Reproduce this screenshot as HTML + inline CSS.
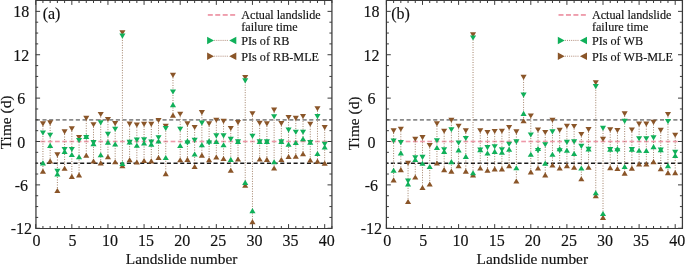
<!DOCTYPE html>
<html><head><meta charset="utf-8"><style>
html,body{margin:0;padding:0;background:#fff;overflow:hidden;width:685px;height:265px;}
svg{display:block;will-change:transform;}
text{font-family:"Liberation Serif",serif;fill:#111;stroke:#111;stroke-width:0.15px;}
</style></head><body>
<svg width="685" height="265" viewBox="0 0 685 265">
<rect width="685" height="265" fill="#fff"/>
<line x1="35.70" y1="119.81" x2="331.92" y2="119.81" stroke="#8a8a8a" stroke-width="1.7" stroke-dasharray="4.1 2.57" stroke-dashoffset="-0.1"/>
<line x1="35.70" y1="163.19" x2="331.92" y2="163.19" stroke="#1a1a1a" stroke-width="1.4" stroke-dasharray="4.1 2.57" stroke-dashoffset="2.25"/>
<line x1="40.58" y1="141.50" x2="45.28" y2="141.50" stroke="#ee98a8" stroke-width="1.6"/>
<line x1="47.80" y1="141.50" x2="52.50" y2="141.50" stroke="#ee98a8" stroke-width="1.6"/>
<line x1="55.02" y1="141.50" x2="59.73" y2="141.50" stroke="#ee98a8" stroke-width="1.6"/>
<line x1="62.25" y1="141.50" x2="66.95" y2="141.50" stroke="#ee98a8" stroke-width="1.6"/>
<line x1="69.48" y1="141.50" x2="74.17" y2="141.50" stroke="#ee98a8" stroke-width="1.6"/>
<line x1="76.70" y1="141.50" x2="81.40" y2="141.50" stroke="#ee98a8" stroke-width="1.6"/>
<line x1="83.93" y1="141.50" x2="88.62" y2="141.50" stroke="#ee98a8" stroke-width="1.6"/>
<line x1="91.15" y1="141.50" x2="95.85" y2="141.50" stroke="#ee98a8" stroke-width="1.6"/>
<line x1="98.38" y1="141.50" x2="103.07" y2="141.50" stroke="#ee98a8" stroke-width="1.6"/>
<line x1="105.60" y1="141.50" x2="110.30" y2="141.50" stroke="#ee98a8" stroke-width="1.6"/>
<line x1="112.83" y1="141.50" x2="117.52" y2="141.50" stroke="#ee98a8" stroke-width="1.6"/>
<line x1="120.05" y1="141.50" x2="124.75" y2="141.50" stroke="#ee98a8" stroke-width="1.6"/>
<line x1="127.28" y1="141.50" x2="131.97" y2="141.50" stroke="#ee98a8" stroke-width="1.6"/>
<line x1="134.50" y1="141.50" x2="139.20" y2="141.50" stroke="#ee98a8" stroke-width="1.6"/>
<line x1="141.72" y1="141.50" x2="146.42" y2="141.50" stroke="#ee98a8" stroke-width="1.6"/>
<line x1="148.95" y1="141.50" x2="153.65" y2="141.50" stroke="#ee98a8" stroke-width="1.6"/>
<line x1="156.17" y1="141.50" x2="160.87" y2="141.50" stroke="#ee98a8" stroke-width="1.6"/>
<line x1="163.40" y1="141.50" x2="168.10" y2="141.50" stroke="#ee98a8" stroke-width="1.6"/>
<line x1="170.63" y1="141.50" x2="175.33" y2="141.50" stroke="#ee98a8" stroke-width="1.6"/>
<line x1="177.85" y1="141.50" x2="182.55" y2="141.50" stroke="#ee98a8" stroke-width="1.6"/>
<line x1="185.08" y1="141.50" x2="189.78" y2="141.50" stroke="#ee98a8" stroke-width="1.6"/>
<line x1="192.30" y1="141.50" x2="197.00" y2="141.50" stroke="#ee98a8" stroke-width="1.6"/>
<line x1="199.53" y1="141.50" x2="204.22" y2="141.50" stroke="#ee98a8" stroke-width="1.6"/>
<line x1="206.75" y1="141.50" x2="211.45" y2="141.50" stroke="#ee98a8" stroke-width="1.6"/>
<line x1="213.97" y1="141.50" x2="218.67" y2="141.50" stroke="#ee98a8" stroke-width="1.6"/>
<line x1="221.20" y1="141.50" x2="225.90" y2="141.50" stroke="#ee98a8" stroke-width="1.6"/>
<line x1="228.42" y1="141.50" x2="233.12" y2="141.50" stroke="#ee98a8" stroke-width="1.6"/>
<line x1="235.65" y1="141.50" x2="240.35" y2="141.50" stroke="#ee98a8" stroke-width="1.6"/>
<line x1="242.87" y1="141.50" x2="247.57" y2="141.50" stroke="#ee98a8" stroke-width="1.6"/>
<line x1="250.10" y1="141.50" x2="254.80" y2="141.50" stroke="#ee98a8" stroke-width="1.6"/>
<line x1="257.32" y1="141.50" x2="262.03" y2="141.50" stroke="#ee98a8" stroke-width="1.6"/>
<line x1="264.55" y1="141.50" x2="269.25" y2="141.50" stroke="#ee98a8" stroke-width="1.6"/>
<line x1="271.77" y1="141.50" x2="276.48" y2="141.50" stroke="#ee98a8" stroke-width="1.6"/>
<line x1="279.00" y1="141.50" x2="283.70" y2="141.50" stroke="#ee98a8" stroke-width="1.6"/>
<line x1="286.22" y1="141.50" x2="290.93" y2="141.50" stroke="#ee98a8" stroke-width="1.6"/>
<line x1="293.45" y1="141.50" x2="298.15" y2="141.50" stroke="#ee98a8" stroke-width="1.6"/>
<line x1="300.67" y1="141.50" x2="305.38" y2="141.50" stroke="#ee98a8" stroke-width="1.6"/>
<line x1="307.90" y1="141.50" x2="312.60" y2="141.50" stroke="#ee98a8" stroke-width="1.6"/>
<line x1="315.12" y1="141.50" x2="319.82" y2="141.50" stroke="#ee98a8" stroke-width="1.6"/>
<line x1="322.35" y1="141.50" x2="327.05" y2="141.50" stroke="#ee98a8" stroke-width="1.6"/>
<line x1="42.93" y1="123.50" x2="42.93" y2="171.14" stroke="#a08068" stroke-width="1" stroke-dasharray="1 1.5"/>
<line x1="50.15" y1="122.49" x2="50.15" y2="160.88" stroke="#a08068" stroke-width="1" stroke-dasharray="1 1.5"/>
<line x1="57.38" y1="154.51" x2="57.38" y2="190.52" stroke="#a08068" stroke-width="1" stroke-dasharray="1 1.5"/>
<line x1="64.60" y1="131.52" x2="64.60" y2="168.25" stroke="#a08068" stroke-width="1" stroke-dasharray="1 1.5"/>
<line x1="71.83" y1="128.49" x2="71.83" y2="176.42" stroke="#a08068" stroke-width="1" stroke-dasharray="1 1.5"/>
<line x1="79.05" y1="137.09" x2="79.05" y2="174.90" stroke="#a08068" stroke-width="1" stroke-dasharray="1 1.5"/>
<line x1="86.28" y1="117.93" x2="86.28" y2="155.24" stroke="#a08068" stroke-width="1" stroke-dasharray="1 1.5"/>
<line x1="93.50" y1="124.29" x2="93.50" y2="161.02" stroke="#a08068" stroke-width="1" stroke-dasharray="1 1.5"/>
<line x1="100.72" y1="114.17" x2="100.72" y2="162.83" stroke="#a08068" stroke-width="1" stroke-dasharray="1 1.5"/>
<line x1="107.95" y1="119.16" x2="107.95" y2="156.68" stroke="#a08068" stroke-width="1" stroke-dasharray="1 1.5"/>
<line x1="115.17" y1="123.21" x2="115.17" y2="161.74" stroke="#a08068" stroke-width="1" stroke-dasharray="1 1.5"/>
<line x1="122.40" y1="32.40" x2="122.40" y2="165.79" stroke="#a08068" stroke-width="1" stroke-dasharray="1 1.5"/>
<line x1="129.62" y1="123.71" x2="129.62" y2="159.72" stroke="#a08068" stroke-width="1" stroke-dasharray="1 1.5"/>
<line x1="136.85" y1="124.73" x2="136.85" y2="162.03" stroke="#a08068" stroke-width="1" stroke-dasharray="1 1.5"/>
<line x1="144.07" y1="124.00" x2="144.07" y2="160.44" stroke="#a08068" stroke-width="1" stroke-dasharray="1 1.5"/>
<line x1="151.30" y1="124.00" x2="151.30" y2="160.88" stroke="#a08068" stroke-width="1" stroke-dasharray="1 1.5"/>
<line x1="158.52" y1="120.17" x2="158.52" y2="157.48" stroke="#a08068" stroke-width="1" stroke-dasharray="1 1.5"/>
<line x1="165.75" y1="125.81" x2="165.75" y2="173.60" stroke="#a08068" stroke-width="1" stroke-dasharray="1 1.5"/>
<line x1="172.98" y1="74.98" x2="172.98" y2="115.11" stroke="#a08068" stroke-width="1" stroke-dasharray="1 1.5"/>
<line x1="180.20" y1="113.88" x2="180.20" y2="159.72" stroke="#a08068" stroke-width="1" stroke-dasharray="1 1.5"/>
<line x1="187.43" y1="123.50" x2="187.43" y2="159.36" stroke="#a08068" stroke-width="1" stroke-dasharray="1 1.5"/>
<line x1="194.65" y1="127.04" x2="194.65" y2="166.52" stroke="#a08068" stroke-width="1" stroke-dasharray="1 1.5"/>
<line x1="201.88" y1="112.22" x2="201.88" y2="155.16" stroke="#a08068" stroke-width="1" stroke-dasharray="1 1.5"/>
<line x1="209.10" y1="123.50" x2="209.10" y2="159.72" stroke="#a08068" stroke-width="1" stroke-dasharray="1 1.5"/>
<line x1="216.32" y1="119.81" x2="216.32" y2="156.97" stroke="#a08068" stroke-width="1" stroke-dasharray="1 1.5"/>
<line x1="223.55" y1="120.97" x2="223.55" y2="158.49" stroke="#a08068" stroke-width="1" stroke-dasharray="1 1.5"/>
<line x1="230.77" y1="128.12" x2="230.77" y2="170.28" stroke="#a08068" stroke-width="1" stroke-dasharray="1 1.5"/>
<line x1="238.00" y1="122.20" x2="238.00" y2="159.00" stroke="#a08068" stroke-width="1" stroke-dasharray="1 1.5"/>
<line x1="245.22" y1="77.15" x2="245.22" y2="185.24" stroke="#a08068" stroke-width="1" stroke-dasharray="1 1.5"/>
<line x1="252.45" y1="113.38" x2="252.45" y2="221.61" stroke="#a08068" stroke-width="1" stroke-dasharray="1 1.5"/>
<line x1="259.68" y1="122.92" x2="259.68" y2="159.00" stroke="#a08068" stroke-width="1" stroke-dasharray="1 1.5"/>
<line x1="266.90" y1="123.50" x2="266.90" y2="159.36" stroke="#a08068" stroke-width="1" stroke-dasharray="1 1.5"/>
<line x1="274.12" y1="109.69" x2="274.12" y2="168.03" stroke="#a08068" stroke-width="1" stroke-dasharray="1 1.5"/>
<line x1="281.35" y1="123.21" x2="281.35" y2="159.57" stroke="#a08068" stroke-width="1" stroke-dasharray="1 1.5"/>
<line x1="288.57" y1="117.06" x2="288.57" y2="156.47" stroke="#a08068" stroke-width="1" stroke-dasharray="1 1.5"/>
<line x1="295.80" y1="117.93" x2="295.80" y2="156.18" stroke="#a08068" stroke-width="1" stroke-dasharray="1 1.5"/>
<line x1="303.02" y1="116.05" x2="303.02" y2="153.79" stroke="#a08068" stroke-width="1" stroke-dasharray="1 1.5"/>
<line x1="310.25" y1="123.79" x2="310.25" y2="159.94" stroke="#a08068" stroke-width="1" stroke-dasharray="1 1.5"/>
<line x1="317.47" y1="108.31" x2="317.47" y2="161.09" stroke="#a08068" stroke-width="1" stroke-dasharray="1 1.5"/>
<line x1="324.70" y1="127.18" x2="324.70" y2="163.12" stroke="#a08068" stroke-width="1" stroke-dasharray="1 1.5"/>
<path d="M39.88 121.35H45.98L42.93 126.45Z" fill="#8a5528"/>
<path d="M39.88 173.69H45.98L42.93 168.59Z" fill="#8a5528"/>
<path d="M47.10 120.34H53.20L50.15 125.44Z" fill="#8a5528"/>
<path d="M47.10 163.43H53.20L50.15 158.33Z" fill="#8a5528"/>
<path d="M54.33 152.36H60.42L57.38 157.46Z" fill="#8a5528"/>
<path d="M54.33 193.07H60.42L57.38 187.97Z" fill="#8a5528"/>
<path d="M61.55 129.37H67.65L64.60 134.47Z" fill="#8a5528"/>
<path d="M61.55 170.80H67.65L64.60 165.70Z" fill="#8a5528"/>
<path d="M68.78 126.34H74.88L71.83 131.44Z" fill="#8a5528"/>
<path d="M68.78 178.97H74.88L71.83 173.87Z" fill="#8a5528"/>
<path d="M76.00 134.94H82.10L79.05 140.04Z" fill="#8a5528"/>
<path d="M76.00 177.45H82.10L79.05 172.35Z" fill="#8a5528"/>
<path d="M83.23 115.78H89.33L86.28 120.88Z" fill="#8a5528"/>
<path d="M83.23 157.79H89.33L86.28 152.69Z" fill="#8a5528"/>
<path d="M90.45 122.14H96.55L93.50 127.24Z" fill="#8a5528"/>
<path d="M90.45 163.57H96.55L93.50 158.47Z" fill="#8a5528"/>
<path d="M97.67 112.02H103.77L100.72 117.12Z" fill="#8a5528"/>
<path d="M97.67 165.38H103.77L100.72 160.28Z" fill="#8a5528"/>
<path d="M104.90 117.01H111.00L107.95 122.11Z" fill="#8a5528"/>
<path d="M104.90 159.23H111.00L107.95 154.13Z" fill="#8a5528"/>
<path d="M112.12 121.06H118.22L115.17 126.16Z" fill="#8a5528"/>
<path d="M112.12 164.29H118.22L115.17 159.19Z" fill="#8a5528"/>
<path d="M119.35 30.25H125.45L122.40 35.35Z" fill="#8a5528"/>
<path d="M119.35 168.34H125.45L122.40 163.24Z" fill="#8a5528"/>
<path d="M126.58 121.56H132.68L129.62 126.66Z" fill="#8a5528"/>
<path d="M126.58 162.27H132.68L129.62 157.17Z" fill="#8a5528"/>
<path d="M133.80 122.58H139.90L136.85 127.68Z" fill="#8a5528"/>
<path d="M133.80 164.58H139.90L136.85 159.48Z" fill="#8a5528"/>
<path d="M141.02 121.85H147.12L144.07 126.95Z" fill="#8a5528"/>
<path d="M141.02 162.99H147.12L144.07 157.89Z" fill="#8a5528"/>
<path d="M148.25 121.85H154.35L151.30 126.95Z" fill="#8a5528"/>
<path d="M148.25 163.43H154.35L151.30 158.33Z" fill="#8a5528"/>
<path d="M155.47 118.02H161.57L158.52 123.12Z" fill="#8a5528"/>
<path d="M155.47 160.03H161.57L158.52 154.93Z" fill="#8a5528"/>
<path d="M162.70 123.66H168.80L165.75 128.76Z" fill="#8a5528"/>
<path d="M162.70 176.15H168.80L165.75 171.05Z" fill="#8a5528"/>
<path d="M169.93 72.83H176.03L172.98 77.93Z" fill="#8a5528"/>
<path d="M169.93 117.66H176.03L172.98 112.56Z" fill="#8a5528"/>
<path d="M177.15 111.73H183.25L180.20 116.83Z" fill="#8a5528"/>
<path d="M177.15 162.27H183.25L180.20 157.17Z" fill="#8a5528"/>
<path d="M184.38 121.35H190.48L187.43 126.45Z" fill="#8a5528"/>
<path d="M184.38 161.91H190.48L187.43 156.81Z" fill="#8a5528"/>
<path d="M191.60 124.89H197.70L194.65 129.99Z" fill="#8a5528"/>
<path d="M191.60 169.07H197.70L194.65 163.97Z" fill="#8a5528"/>
<path d="M198.82 110.07H204.93L201.88 115.17Z" fill="#8a5528"/>
<path d="M198.82 157.71H204.93L201.88 152.61Z" fill="#8a5528"/>
<path d="M206.05 121.35H212.15L209.10 126.45Z" fill="#8a5528"/>
<path d="M206.05 162.27H212.15L209.10 157.17Z" fill="#8a5528"/>
<path d="M213.27 117.66H219.38L216.32 122.76Z" fill="#8a5528"/>
<path d="M213.27 159.52H219.38L216.32 154.42Z" fill="#8a5528"/>
<path d="M220.50 118.82H226.60L223.55 123.92Z" fill="#8a5528"/>
<path d="M220.50 161.04H226.60L223.55 155.94Z" fill="#8a5528"/>
<path d="M227.72 125.97H233.82L230.77 131.07Z" fill="#8a5528"/>
<path d="M227.72 172.83H233.82L230.77 167.73Z" fill="#8a5528"/>
<path d="M234.95 120.05H241.05L238.00 125.15Z" fill="#8a5528"/>
<path d="M234.95 161.55H241.05L238.00 156.45Z" fill="#8a5528"/>
<path d="M242.17 75.00H248.27L245.22 80.10Z" fill="#8a5528"/>
<path d="M242.17 187.79H248.27L245.22 182.69Z" fill="#8a5528"/>
<path d="M249.40 111.23H255.50L252.45 116.33Z" fill="#8a5528"/>
<path d="M249.40 224.16H255.50L252.45 219.06Z" fill="#8a5528"/>
<path d="M256.62 120.77H262.73L259.68 125.87Z" fill="#8a5528"/>
<path d="M256.62 161.55H262.73L259.68 156.45Z" fill="#8a5528"/>
<path d="M263.85 121.35H269.95L266.90 126.45Z" fill="#8a5528"/>
<path d="M263.85 161.91H269.95L266.90 156.81Z" fill="#8a5528"/>
<path d="M271.07 107.54H277.18L274.12 112.64Z" fill="#8a5528"/>
<path d="M271.07 170.58H277.18L274.12 165.48Z" fill="#8a5528"/>
<path d="M278.30 121.06H284.40L281.35 126.16Z" fill="#8a5528"/>
<path d="M278.30 162.12H284.40L281.35 157.02Z" fill="#8a5528"/>
<path d="M285.52 114.91H291.62L288.57 120.01Z" fill="#8a5528"/>
<path d="M285.52 159.02H291.62L288.57 153.92Z" fill="#8a5528"/>
<path d="M292.75 115.78H298.85L295.80 120.88Z" fill="#8a5528"/>
<path d="M292.75 158.73H298.85L295.80 153.63Z" fill="#8a5528"/>
<path d="M299.97 113.90H306.07L303.02 119.00Z" fill="#8a5528"/>
<path d="M299.97 156.34H306.07L303.02 151.24Z" fill="#8a5528"/>
<path d="M307.20 121.64H313.30L310.25 126.74Z" fill="#8a5528"/>
<path d="M307.20 162.49H313.30L310.25 157.39Z" fill="#8a5528"/>
<path d="M314.42 106.16H320.52L317.47 111.26Z" fill="#8a5528"/>
<path d="M314.42 163.64H320.52L317.47 158.54Z" fill="#8a5528"/>
<path d="M321.65 125.03H327.75L324.70 130.13Z" fill="#8a5528"/>
<path d="M321.65 165.67H327.75L324.70 160.57Z" fill="#8a5528"/>
<path d="M39.88 130.46H45.98L42.93 135.56Z" fill="#10b05a"/>
<path d="M39.88 165.38H45.98L42.93 160.28Z" fill="#10b05a"/>
<path d="M47.10 132.63H53.20L50.15 137.73Z" fill="#10b05a"/>
<path d="M47.10 147.95H53.20L50.15 142.85Z" fill="#10b05a"/>
<path d="M54.33 168.85H60.42L57.38 173.95Z" fill="#10b05a"/>
<path d="M54.33 176.59H60.42L57.38 171.48Z" fill="#10b05a"/>
<path d="M61.55 146.94H67.65L64.60 152.04Z" fill="#10b05a"/>
<path d="M61.55 153.96H67.65L64.60 148.86Z" fill="#10b05a"/>
<path d="M68.78 146.94H74.88L71.83 152.04Z" fill="#10b05a"/>
<path d="M68.78 157.06H74.88L71.83 151.96Z" fill="#10b05a"/>
<path d="M76.00 137.90H82.10L79.05 143.00Z" fill="#10b05a"/>
<path d="M76.00 159.23H82.10L79.05 154.13Z" fill="#10b05a"/>
<path d="M83.23 135.01H89.33L86.28 140.11Z" fill="#10b05a"/>
<path d="M83.23 138.99H89.33L86.28 133.89Z" fill="#10b05a"/>
<path d="M90.45 140.07H96.55L93.50 145.17Z" fill="#10b05a"/>
<path d="M90.45 146.15H96.55L93.50 141.05Z" fill="#10b05a"/>
<path d="M97.67 120.34H103.77L100.72 125.44Z" fill="#10b05a"/>
<path d="M97.67 157.35H103.77L100.72 152.25Z" fill="#10b05a"/>
<path d="M104.90 131.83H111.00L107.95 136.93Z" fill="#10b05a"/>
<path d="M104.90 144.70H111.00L107.95 139.60Z" fill="#10b05a"/>
<path d="M112.12 126.63H118.22L115.17 131.73Z" fill="#10b05a"/>
<path d="M112.12 146.58H118.22L115.17 141.48Z" fill="#10b05a"/>
<path d="M119.35 33.58H125.45L122.40 38.68Z" fill="#10b05a"/>
<path d="M119.35 166.03H125.45L122.40 160.93Z" fill="#10b05a"/>
<path d="M126.58 139.86H132.68L129.62 144.96Z" fill="#10b05a"/>
<path d="M126.58 144.56H132.68L129.62 139.46Z" fill="#10b05a"/>
<path d="M133.80 137.54H139.90L136.85 142.64Z" fill="#10b05a"/>
<path d="M133.80 147.74H139.90L136.85 142.64Z" fill="#10b05a"/>
<path d="M141.02 137.25H147.12L144.07 142.35Z" fill="#10b05a"/>
<path d="M141.02 145.57H147.12L144.07 140.47Z" fill="#10b05a"/>
<path d="M148.25 139.42H154.35L151.30 144.52Z" fill="#10b05a"/>
<path d="M148.25 146.65H154.35L151.30 141.55Z" fill="#10b05a"/>
<path d="M155.47 135.23H161.57L158.52 140.33Z" fill="#10b05a"/>
<path d="M155.47 143.62H161.57L158.52 138.52Z" fill="#10b05a"/>
<path d="M162.70 125.97H168.80L165.75 131.07Z" fill="#10b05a"/>
<path d="M162.70 160.03H168.80L165.75 154.93Z" fill="#10b05a"/>
<path d="M169.93 89.46H176.03L172.98 94.56Z" fill="#10b05a"/>
<path d="M169.93 107.18H176.03L172.98 102.08Z" fill="#10b05a"/>
<path d="M177.15 126.63H183.25L180.20 131.73Z" fill="#10b05a"/>
<path d="M177.15 148.03H183.25L180.20 142.93Z" fill="#10b05a"/>
<path d="M184.38 140.43H190.48L187.43 145.53Z" fill="#10b05a"/>
<path d="M184.38 143.40H190.48L187.43 138.30Z" fill="#10b05a"/>
<path d="M191.60 137.83H197.70L194.65 142.93Z" fill="#10b05a"/>
<path d="M191.60 156.56H197.70L194.65 151.46Z" fill="#10b05a"/>
<path d="M198.82 120.62H204.93L201.88 125.72Z" fill="#10b05a"/>
<path d="M198.82 147.30H204.93L201.88 142.20Z" fill="#10b05a"/>
<path d="M206.05 140.43H212.15L209.10 145.53Z" fill="#10b05a"/>
<path d="M206.05 143.40H212.15L209.10 138.30Z" fill="#10b05a"/>
<path d="M213.27 133.35H219.38L216.32 138.45Z" fill="#10b05a"/>
<path d="M213.27 144.05H219.38L216.32 138.95Z" fill="#10b05a"/>
<path d="M220.50 133.35H226.60L223.55 138.45Z" fill="#10b05a"/>
<path d="M220.50 147.30H226.60L223.55 142.20Z" fill="#10b05a"/>
<path d="M227.72 136.82H233.82L230.77 141.92Z" fill="#10b05a"/>
<path d="M227.72 161.91H233.82L230.77 156.81Z" fill="#10b05a"/>
<path d="M234.95 139.35H241.05L238.00 144.45Z" fill="#10b05a"/>
<path d="M234.95 144.05H241.05L238.00 138.95Z" fill="#10b05a"/>
<path d="M242.17 78.33H248.27L245.22 83.43Z" fill="#10b05a"/>
<path d="M242.17 184.90H248.27L245.22 179.80Z" fill="#10b05a"/>
<path d="M249.40 133.64H255.50L252.45 138.74Z" fill="#10b05a"/>
<path d="M249.40 213.17H255.50L252.45 208.07Z" fill="#10b05a"/>
<path d="M256.62 139.35H262.73L259.68 144.45Z" fill="#10b05a"/>
<path d="M256.62 144.05H262.73L259.68 138.95Z" fill="#10b05a"/>
<path d="M263.85 139.35H269.95L266.90 144.45Z" fill="#10b05a"/>
<path d="M263.85 144.05H269.95L266.90 138.95Z" fill="#10b05a"/>
<path d="M271.07 114.19H277.18L274.12 119.29Z" fill="#10b05a"/>
<path d="M271.07 164.29H277.18L274.12 159.19Z" fill="#10b05a"/>
<path d="M278.30 139.35H284.40L281.35 144.45Z" fill="#10b05a"/>
<path d="M278.30 144.05H284.40L281.35 138.95Z" fill="#10b05a"/>
<path d="M285.52 127.57H291.62L288.57 132.67Z" fill="#10b05a"/>
<path d="M285.52 146.73H291.62L288.57 141.63Z" fill="#10b05a"/>
<path d="M292.75 129.73H298.85L295.80 134.83Z" fill="#10b05a"/>
<path d="M292.75 145.06H298.85L295.80 139.96Z" fill="#10b05a"/>
<path d="M299.97 129.73H306.07L303.02 134.83Z" fill="#10b05a"/>
<path d="M299.97 141.37H306.07L303.02 136.27Z" fill="#10b05a"/>
<path d="M307.20 139.93H313.30L310.25 145.03Z" fill="#10b05a"/>
<path d="M307.20 144.63H313.30L310.25 139.53Z" fill="#10b05a"/>
<path d="M314.42 114.05H320.52L317.47 119.14Z" fill="#10b05a"/>
<path d="M314.42 156.12H320.52L317.47 151.02Z" fill="#10b05a"/>
<path d="M321.65 141.66H327.75L324.70 146.76Z" fill="#10b05a"/>
<path d="M321.65 149.62H327.75L324.70 144.52Z" fill="#10b05a"/>
<path d="M35.95 0.5H331.92M35.95 228.5H331.92" stroke="#3a3a3a" stroke-width="1.05" fill="none"/>
<path d="M35.95 0V229M331.92 0V229" stroke="#3a3a3a" stroke-width="1.25" fill="none"/>
<line x1="35.70" y1="228.50" x2="35.70" y2="224.10" stroke="#3a3a3a" stroke-width="1"/>
<line x1="35.70" y1="0.50" x2="35.70" y2="4.90" stroke="#3a3a3a" stroke-width="1"/>
<line x1="42.93" y1="228.50" x2="42.93" y2="226.00" stroke="#3a3a3a" stroke-width="1"/>
<line x1="42.93" y1="0.50" x2="42.93" y2="3.00" stroke="#3a3a3a" stroke-width="1"/>
<line x1="50.15" y1="228.50" x2="50.15" y2="226.00" stroke="#3a3a3a" stroke-width="1"/>
<line x1="50.15" y1="0.50" x2="50.15" y2="3.00" stroke="#3a3a3a" stroke-width="1"/>
<line x1="57.38" y1="228.50" x2="57.38" y2="226.00" stroke="#3a3a3a" stroke-width="1"/>
<line x1="57.38" y1="0.50" x2="57.38" y2="3.00" stroke="#3a3a3a" stroke-width="1"/>
<line x1="64.60" y1="228.50" x2="64.60" y2="226.00" stroke="#3a3a3a" stroke-width="1"/>
<line x1="64.60" y1="0.50" x2="64.60" y2="3.00" stroke="#3a3a3a" stroke-width="1"/>
<line x1="71.83" y1="228.50" x2="71.83" y2="224.10" stroke="#3a3a3a" stroke-width="1"/>
<line x1="71.83" y1="0.50" x2="71.83" y2="4.90" stroke="#3a3a3a" stroke-width="1"/>
<line x1="79.05" y1="228.50" x2="79.05" y2="226.00" stroke="#3a3a3a" stroke-width="1"/>
<line x1="79.05" y1="0.50" x2="79.05" y2="3.00" stroke="#3a3a3a" stroke-width="1"/>
<line x1="86.28" y1="228.50" x2="86.28" y2="226.00" stroke="#3a3a3a" stroke-width="1"/>
<line x1="86.28" y1="0.50" x2="86.28" y2="3.00" stroke="#3a3a3a" stroke-width="1"/>
<line x1="93.50" y1="228.50" x2="93.50" y2="226.00" stroke="#3a3a3a" stroke-width="1"/>
<line x1="93.50" y1="0.50" x2="93.50" y2="3.00" stroke="#3a3a3a" stroke-width="1"/>
<line x1="100.72" y1="228.50" x2="100.72" y2="226.00" stroke="#3a3a3a" stroke-width="1"/>
<line x1="100.72" y1="0.50" x2="100.72" y2="3.00" stroke="#3a3a3a" stroke-width="1"/>
<line x1="107.95" y1="228.50" x2="107.95" y2="224.10" stroke="#3a3a3a" stroke-width="1"/>
<line x1="107.95" y1="0.50" x2="107.95" y2="4.90" stroke="#3a3a3a" stroke-width="1"/>
<line x1="115.17" y1="228.50" x2="115.17" y2="226.00" stroke="#3a3a3a" stroke-width="1"/>
<line x1="115.17" y1="0.50" x2="115.17" y2="3.00" stroke="#3a3a3a" stroke-width="1"/>
<line x1="122.40" y1="228.50" x2="122.40" y2="226.00" stroke="#3a3a3a" stroke-width="1"/>
<line x1="122.40" y1="0.50" x2="122.40" y2="3.00" stroke="#3a3a3a" stroke-width="1"/>
<line x1="129.62" y1="228.50" x2="129.62" y2="226.00" stroke="#3a3a3a" stroke-width="1"/>
<line x1="129.62" y1="0.50" x2="129.62" y2="3.00" stroke="#3a3a3a" stroke-width="1"/>
<line x1="136.85" y1="228.50" x2="136.85" y2="226.00" stroke="#3a3a3a" stroke-width="1"/>
<line x1="136.85" y1="0.50" x2="136.85" y2="3.00" stroke="#3a3a3a" stroke-width="1"/>
<line x1="144.07" y1="228.50" x2="144.07" y2="224.10" stroke="#3a3a3a" stroke-width="1"/>
<line x1="144.07" y1="0.50" x2="144.07" y2="4.90" stroke="#3a3a3a" stroke-width="1"/>
<line x1="151.30" y1="228.50" x2="151.30" y2="226.00" stroke="#3a3a3a" stroke-width="1"/>
<line x1="151.30" y1="0.50" x2="151.30" y2="3.00" stroke="#3a3a3a" stroke-width="1"/>
<line x1="158.52" y1="228.50" x2="158.52" y2="226.00" stroke="#3a3a3a" stroke-width="1"/>
<line x1="158.52" y1="0.50" x2="158.52" y2="3.00" stroke="#3a3a3a" stroke-width="1"/>
<line x1="165.75" y1="228.50" x2="165.75" y2="226.00" stroke="#3a3a3a" stroke-width="1"/>
<line x1="165.75" y1="0.50" x2="165.75" y2="3.00" stroke="#3a3a3a" stroke-width="1"/>
<line x1="172.98" y1="228.50" x2="172.98" y2="226.00" stroke="#3a3a3a" stroke-width="1"/>
<line x1="172.98" y1="0.50" x2="172.98" y2="3.00" stroke="#3a3a3a" stroke-width="1"/>
<line x1="180.20" y1="228.50" x2="180.20" y2="224.10" stroke="#3a3a3a" stroke-width="1"/>
<line x1="180.20" y1="0.50" x2="180.20" y2="4.90" stroke="#3a3a3a" stroke-width="1"/>
<line x1="187.43" y1="228.50" x2="187.43" y2="226.00" stroke="#3a3a3a" stroke-width="1"/>
<line x1="187.43" y1="0.50" x2="187.43" y2="3.00" stroke="#3a3a3a" stroke-width="1"/>
<line x1="194.65" y1="228.50" x2="194.65" y2="226.00" stroke="#3a3a3a" stroke-width="1"/>
<line x1="194.65" y1="0.50" x2="194.65" y2="3.00" stroke="#3a3a3a" stroke-width="1"/>
<line x1="201.88" y1="228.50" x2="201.88" y2="226.00" stroke="#3a3a3a" stroke-width="1"/>
<line x1="201.88" y1="0.50" x2="201.88" y2="3.00" stroke="#3a3a3a" stroke-width="1"/>
<line x1="209.10" y1="228.50" x2="209.10" y2="226.00" stroke="#3a3a3a" stroke-width="1"/>
<line x1="209.10" y1="0.50" x2="209.10" y2="3.00" stroke="#3a3a3a" stroke-width="1"/>
<line x1="216.32" y1="228.50" x2="216.32" y2="224.10" stroke="#3a3a3a" stroke-width="1"/>
<line x1="216.32" y1="0.50" x2="216.32" y2="4.90" stroke="#3a3a3a" stroke-width="1"/>
<line x1="223.55" y1="228.50" x2="223.55" y2="226.00" stroke="#3a3a3a" stroke-width="1"/>
<line x1="223.55" y1="0.50" x2="223.55" y2="3.00" stroke="#3a3a3a" stroke-width="1"/>
<line x1="230.77" y1="228.50" x2="230.77" y2="226.00" stroke="#3a3a3a" stroke-width="1"/>
<line x1="230.77" y1="0.50" x2="230.77" y2="3.00" stroke="#3a3a3a" stroke-width="1"/>
<line x1="238.00" y1="228.50" x2="238.00" y2="226.00" stroke="#3a3a3a" stroke-width="1"/>
<line x1="238.00" y1="0.50" x2="238.00" y2="3.00" stroke="#3a3a3a" stroke-width="1"/>
<line x1="245.22" y1="228.50" x2="245.22" y2="226.00" stroke="#3a3a3a" stroke-width="1"/>
<line x1="245.22" y1="0.50" x2="245.22" y2="3.00" stroke="#3a3a3a" stroke-width="1"/>
<line x1="252.45" y1="228.50" x2="252.45" y2="224.10" stroke="#3a3a3a" stroke-width="1"/>
<line x1="252.45" y1="0.50" x2="252.45" y2="4.90" stroke="#3a3a3a" stroke-width="1"/>
<line x1="259.68" y1="228.50" x2="259.68" y2="226.00" stroke="#3a3a3a" stroke-width="1"/>
<line x1="259.68" y1="0.50" x2="259.68" y2="3.00" stroke="#3a3a3a" stroke-width="1"/>
<line x1="266.90" y1="228.50" x2="266.90" y2="226.00" stroke="#3a3a3a" stroke-width="1"/>
<line x1="266.90" y1="0.50" x2="266.90" y2="3.00" stroke="#3a3a3a" stroke-width="1"/>
<line x1="274.12" y1="228.50" x2="274.12" y2="226.00" stroke="#3a3a3a" stroke-width="1"/>
<line x1="274.12" y1="0.50" x2="274.12" y2="3.00" stroke="#3a3a3a" stroke-width="1"/>
<line x1="281.35" y1="228.50" x2="281.35" y2="226.00" stroke="#3a3a3a" stroke-width="1"/>
<line x1="281.35" y1="0.50" x2="281.35" y2="3.00" stroke="#3a3a3a" stroke-width="1"/>
<line x1="288.57" y1="228.50" x2="288.57" y2="224.10" stroke="#3a3a3a" stroke-width="1"/>
<line x1="288.57" y1="0.50" x2="288.57" y2="4.90" stroke="#3a3a3a" stroke-width="1"/>
<line x1="295.80" y1="228.50" x2="295.80" y2="226.00" stroke="#3a3a3a" stroke-width="1"/>
<line x1="295.80" y1="0.50" x2="295.80" y2="3.00" stroke="#3a3a3a" stroke-width="1"/>
<line x1="303.02" y1="228.50" x2="303.02" y2="226.00" stroke="#3a3a3a" stroke-width="1"/>
<line x1="303.02" y1="0.50" x2="303.02" y2="3.00" stroke="#3a3a3a" stroke-width="1"/>
<line x1="310.25" y1="228.50" x2="310.25" y2="226.00" stroke="#3a3a3a" stroke-width="1"/>
<line x1="310.25" y1="0.50" x2="310.25" y2="3.00" stroke="#3a3a3a" stroke-width="1"/>
<line x1="317.47" y1="228.50" x2="317.47" y2="226.00" stroke="#3a3a3a" stroke-width="1"/>
<line x1="317.47" y1="0.50" x2="317.47" y2="3.00" stroke="#3a3a3a" stroke-width="1"/>
<line x1="324.70" y1="228.50" x2="324.70" y2="224.10" stroke="#3a3a3a" stroke-width="1"/>
<line x1="324.70" y1="0.50" x2="324.70" y2="4.90" stroke="#3a3a3a" stroke-width="1"/>
<line x1="331.92" y1="228.50" x2="331.92" y2="226.00" stroke="#3a3a3a" stroke-width="1"/>
<line x1="331.92" y1="0.50" x2="331.92" y2="3.00" stroke="#3a3a3a" stroke-width="1"/>
<line x1="35.70" y1="228.26" x2="40.10" y2="228.26" stroke="#3a3a3a" stroke-width="1"/>
<line x1="331.92" y1="228.26" x2="327.52" y2="228.26" stroke="#3a3a3a" stroke-width="1"/>
<line x1="35.70" y1="217.42" x2="38.20" y2="217.42" stroke="#3a3a3a" stroke-width="1"/>
<line x1="331.92" y1="217.42" x2="329.42" y2="217.42" stroke="#3a3a3a" stroke-width="1"/>
<line x1="35.70" y1="206.57" x2="38.20" y2="206.57" stroke="#3a3a3a" stroke-width="1"/>
<line x1="331.92" y1="206.57" x2="329.42" y2="206.57" stroke="#3a3a3a" stroke-width="1"/>
<line x1="35.70" y1="195.72" x2="38.20" y2="195.72" stroke="#3a3a3a" stroke-width="1"/>
<line x1="331.92" y1="195.72" x2="329.42" y2="195.72" stroke="#3a3a3a" stroke-width="1"/>
<line x1="35.70" y1="184.88" x2="40.10" y2="184.88" stroke="#3a3a3a" stroke-width="1"/>
<line x1="331.92" y1="184.88" x2="327.52" y2="184.88" stroke="#3a3a3a" stroke-width="1"/>
<line x1="35.70" y1="174.03" x2="38.20" y2="174.03" stroke="#3a3a3a" stroke-width="1"/>
<line x1="331.92" y1="174.03" x2="329.42" y2="174.03" stroke="#3a3a3a" stroke-width="1"/>
<line x1="35.70" y1="163.19" x2="38.20" y2="163.19" stroke="#3a3a3a" stroke-width="1"/>
<line x1="331.92" y1="163.19" x2="329.42" y2="163.19" stroke="#3a3a3a" stroke-width="1"/>
<line x1="35.70" y1="152.34" x2="38.20" y2="152.34" stroke="#3a3a3a" stroke-width="1"/>
<line x1="331.92" y1="152.34" x2="329.42" y2="152.34" stroke="#3a3a3a" stroke-width="1"/>
<line x1="35.70" y1="141.50" x2="40.10" y2="141.50" stroke="#3a3a3a" stroke-width="1"/>
<line x1="331.92" y1="141.50" x2="327.52" y2="141.50" stroke="#3a3a3a" stroke-width="1"/>
<line x1="35.70" y1="130.66" x2="38.20" y2="130.66" stroke="#3a3a3a" stroke-width="1"/>
<line x1="331.92" y1="130.66" x2="329.42" y2="130.66" stroke="#3a3a3a" stroke-width="1"/>
<line x1="35.70" y1="119.81" x2="38.20" y2="119.81" stroke="#3a3a3a" stroke-width="1"/>
<line x1="331.92" y1="119.81" x2="329.42" y2="119.81" stroke="#3a3a3a" stroke-width="1"/>
<line x1="35.70" y1="108.97" x2="38.20" y2="108.97" stroke="#3a3a3a" stroke-width="1"/>
<line x1="331.92" y1="108.97" x2="329.42" y2="108.97" stroke="#3a3a3a" stroke-width="1"/>
<line x1="35.70" y1="98.12" x2="40.10" y2="98.12" stroke="#3a3a3a" stroke-width="1"/>
<line x1="331.92" y1="98.12" x2="327.52" y2="98.12" stroke="#3a3a3a" stroke-width="1"/>
<line x1="35.70" y1="87.28" x2="38.20" y2="87.28" stroke="#3a3a3a" stroke-width="1"/>
<line x1="331.92" y1="87.28" x2="329.42" y2="87.28" stroke="#3a3a3a" stroke-width="1"/>
<line x1="35.70" y1="76.43" x2="38.20" y2="76.43" stroke="#3a3a3a" stroke-width="1"/>
<line x1="331.92" y1="76.43" x2="329.42" y2="76.43" stroke="#3a3a3a" stroke-width="1"/>
<line x1="35.70" y1="65.58" x2="38.20" y2="65.58" stroke="#3a3a3a" stroke-width="1"/>
<line x1="331.92" y1="65.58" x2="329.42" y2="65.58" stroke="#3a3a3a" stroke-width="1"/>
<line x1="35.70" y1="54.74" x2="40.10" y2="54.74" stroke="#3a3a3a" stroke-width="1"/>
<line x1="331.92" y1="54.74" x2="327.52" y2="54.74" stroke="#3a3a3a" stroke-width="1"/>
<line x1="35.70" y1="43.89" x2="38.20" y2="43.89" stroke="#3a3a3a" stroke-width="1"/>
<line x1="331.92" y1="43.89" x2="329.42" y2="43.89" stroke="#3a3a3a" stroke-width="1"/>
<line x1="35.70" y1="33.05" x2="38.20" y2="33.05" stroke="#3a3a3a" stroke-width="1"/>
<line x1="331.92" y1="33.05" x2="329.42" y2="33.05" stroke="#3a3a3a" stroke-width="1"/>
<line x1="35.70" y1="22.20" x2="38.20" y2="22.20" stroke="#3a3a3a" stroke-width="1"/>
<line x1="331.92" y1="22.20" x2="329.42" y2="22.20" stroke="#3a3a3a" stroke-width="1"/>
<line x1="35.70" y1="11.36" x2="40.10" y2="11.36" stroke="#3a3a3a" stroke-width="1"/>
<line x1="331.92" y1="11.36" x2="327.52" y2="11.36" stroke="#3a3a3a" stroke-width="1"/>
<line x1="35.70" y1="0.51" x2="38.20" y2="0.51" stroke="#3a3a3a" stroke-width="1"/>
<line x1="331.92" y1="0.51" x2="329.42" y2="0.51" stroke="#3a3a3a" stroke-width="1"/>
<text x="36.50" y="246" text-anchor="middle" font-size="16" style="font-family:'Liberation Serif',serif">0</text>
<text x="72.62" y="246" text-anchor="middle" font-size="16" style="font-family:'Liberation Serif',serif">5</text>
<text x="109.95" y="246" text-anchor="middle" font-size="16" style="font-family:'Liberation Serif',serif">10</text>
<text x="146.07" y="246" text-anchor="middle" font-size="16" style="font-family:'Liberation Serif',serif">15</text>
<text x="182.20" y="246" text-anchor="middle" font-size="16" style="font-family:'Liberation Serif',serif">20</text>
<text x="218.32" y="246" text-anchor="middle" font-size="16" style="font-family:'Liberation Serif',serif">25</text>
<text x="254.45" y="246" text-anchor="middle" font-size="16" style="font-family:'Liberation Serif',serif">30</text>
<text x="290.57" y="246" text-anchor="middle" font-size="16" style="font-family:'Liberation Serif',serif">35</text>
<text x="326.70" y="246" text-anchor="middle" font-size="16" style="font-family:'Liberation Serif',serif">40</text>
<text x="21.30" y="234.26" text-anchor="middle" font-size="16" style="font-family:'Liberation Serif',serif">-12</text>
<text x="21.30" y="190.88" text-anchor="middle" font-size="16" style="font-family:'Liberation Serif',serif">-6</text>
<text x="21.30" y="147.50" text-anchor="middle" font-size="16" style="font-family:'Liberation Serif',serif">0</text>
<text x="21.30" y="104.12" text-anchor="middle" font-size="16" style="font-family:'Liberation Serif',serif">6</text>
<text x="21.30" y="60.74" text-anchor="middle" font-size="16" style="font-family:'Liberation Serif',serif">12</text>
<text x="21.30" y="17.36" text-anchor="middle" font-size="16" style="font-family:'Liberation Serif',serif">18</text>
<text x="181.60" y="263.7" text-anchor="middle" font-size="15.4" style="font-family:'Liberation Serif',serif">Landslide number</text>
<text transform="translate(11.40,122.40) rotate(-90)" text-anchor="middle" font-size="15.4" style="font-family:'Liberation Serif',serif">Time (d)</text>
<text x="42.70" y="19.4" font-size="16" style="font-family:'Liberation Serif',serif">(a)</text>
<g stroke="#ee98a8" stroke-width="1.8"><line x1="207.80" y1="14.95" x2="212.80" y2="14.95"/><line x1="215.25" y1="14.95" x2="220.25" y2="14.95"/><line x1="222.70" y1="14.95" x2="227.70" y2="14.95"/><line x1="230.15" y1="14.95" x2="235.15" y2="14.95"/></g>
<text x="241.20" y="18.7" font-size="12.2" style="font-family:'Liberation Serif',serif">Actual landslide</text>
<text x="241.20" y="31.0" font-size="12.2" style="font-family:'Liberation Serif',serif">failure time</text>
<line x1="214.20" y1="40.4" x2="228.70" y2="40.4" stroke="#b08a78" stroke-width="1" stroke-dasharray="1 1.1"/>
<path d="M207.10 36.65L214.00 40.4L207.10 44.15Z" fill="#10b05a"/>
<path d="M236.30 36.65L229.20 40.4L236.30 44.15Z" fill="#10b05a"/>
<text x="241.20" y="45.30" font-size="12.2" style="font-family:'Liberation Serif',serif">PIs of RB</text>
<line x1="214.20" y1="56.2" x2="228.70" y2="56.2" stroke="#b08a78" stroke-width="1" stroke-dasharray="1 1.1"/>
<path d="M207.10 52.45L214.00 56.2L207.10 59.95Z" fill="#8a5528"/>
<path d="M236.30 52.45L229.20 56.2L236.30 59.95Z" fill="#8a5528"/>
<text x="241.20" y="61.10" font-size="12.2" style="font-family:'Liberation Serif',serif">PIs of RB-MLE</text>
<line x1="386.40" y1="119.81" x2="682.42" y2="119.81" stroke="#8a8a8a" stroke-width="1.7" stroke-dasharray="4.1 2.57" stroke-dashoffset="-0.1"/>
<line x1="386.40" y1="163.19" x2="682.42" y2="163.19" stroke="#1a1a1a" stroke-width="1.4" stroke-dasharray="4.1 2.57" stroke-dashoffset="2.25"/>
<line x1="391.27" y1="141.50" x2="395.97" y2="141.50" stroke="#ee98a8" stroke-width="1.6"/>
<line x1="398.49" y1="141.50" x2="403.19" y2="141.50" stroke="#ee98a8" stroke-width="1.6"/>
<line x1="405.71" y1="141.50" x2="410.41" y2="141.50" stroke="#ee98a8" stroke-width="1.6"/>
<line x1="412.93" y1="141.50" x2="417.63" y2="141.50" stroke="#ee98a8" stroke-width="1.6"/>
<line x1="420.15" y1="141.50" x2="424.85" y2="141.50" stroke="#ee98a8" stroke-width="1.6"/>
<line x1="427.37" y1="141.50" x2="432.07" y2="141.50" stroke="#ee98a8" stroke-width="1.6"/>
<line x1="434.59" y1="141.50" x2="439.29" y2="141.50" stroke="#ee98a8" stroke-width="1.6"/>
<line x1="441.81" y1="141.50" x2="446.51" y2="141.50" stroke="#ee98a8" stroke-width="1.6"/>
<line x1="449.03" y1="141.50" x2="453.73" y2="141.50" stroke="#ee98a8" stroke-width="1.6"/>
<line x1="456.25" y1="141.50" x2="460.95" y2="141.50" stroke="#ee98a8" stroke-width="1.6"/>
<line x1="463.47" y1="141.50" x2="468.17" y2="141.50" stroke="#ee98a8" stroke-width="1.6"/>
<line x1="470.69" y1="141.50" x2="475.39" y2="141.50" stroke="#ee98a8" stroke-width="1.6"/>
<line x1="477.91" y1="141.50" x2="482.61" y2="141.50" stroke="#ee98a8" stroke-width="1.6"/>
<line x1="485.13" y1="141.50" x2="489.83" y2="141.50" stroke="#ee98a8" stroke-width="1.6"/>
<line x1="492.35" y1="141.50" x2="497.05" y2="141.50" stroke="#ee98a8" stroke-width="1.6"/>
<line x1="499.57" y1="141.50" x2="504.27" y2="141.50" stroke="#ee98a8" stroke-width="1.6"/>
<line x1="506.79" y1="141.50" x2="511.49" y2="141.50" stroke="#ee98a8" stroke-width="1.6"/>
<line x1="514.01" y1="141.50" x2="518.71" y2="141.50" stroke="#ee98a8" stroke-width="1.6"/>
<line x1="521.23" y1="141.50" x2="525.93" y2="141.50" stroke="#ee98a8" stroke-width="1.6"/>
<line x1="528.45" y1="141.50" x2="533.15" y2="141.50" stroke="#ee98a8" stroke-width="1.6"/>
<line x1="535.67" y1="141.50" x2="540.37" y2="141.50" stroke="#ee98a8" stroke-width="1.6"/>
<line x1="542.89" y1="141.50" x2="547.59" y2="141.50" stroke="#ee98a8" stroke-width="1.6"/>
<line x1="550.11" y1="141.50" x2="554.81" y2="141.50" stroke="#ee98a8" stroke-width="1.6"/>
<line x1="557.33" y1="141.50" x2="562.03" y2="141.50" stroke="#ee98a8" stroke-width="1.6"/>
<line x1="564.55" y1="141.50" x2="569.25" y2="141.50" stroke="#ee98a8" stroke-width="1.6"/>
<line x1="571.77" y1="141.50" x2="576.47" y2="141.50" stroke="#ee98a8" stroke-width="1.6"/>
<line x1="578.99" y1="141.50" x2="583.69" y2="141.50" stroke="#ee98a8" stroke-width="1.6"/>
<line x1="586.21" y1="141.50" x2="590.91" y2="141.50" stroke="#ee98a8" stroke-width="1.6"/>
<line x1="593.43" y1="141.50" x2="598.13" y2="141.50" stroke="#ee98a8" stroke-width="1.6"/>
<line x1="600.65" y1="141.50" x2="605.35" y2="141.50" stroke="#ee98a8" stroke-width="1.6"/>
<line x1="607.87" y1="141.50" x2="612.57" y2="141.50" stroke="#ee98a8" stroke-width="1.6"/>
<line x1="615.09" y1="141.50" x2="619.79" y2="141.50" stroke="#ee98a8" stroke-width="1.6"/>
<line x1="622.31" y1="141.50" x2="627.01" y2="141.50" stroke="#ee98a8" stroke-width="1.6"/>
<line x1="629.53" y1="141.50" x2="634.23" y2="141.50" stroke="#ee98a8" stroke-width="1.6"/>
<line x1="636.75" y1="141.50" x2="641.45" y2="141.50" stroke="#ee98a8" stroke-width="1.6"/>
<line x1="643.97" y1="141.50" x2="648.67" y2="141.50" stroke="#ee98a8" stroke-width="1.6"/>
<line x1="651.19" y1="141.50" x2="655.89" y2="141.50" stroke="#ee98a8" stroke-width="1.6"/>
<line x1="658.41" y1="141.50" x2="663.11" y2="141.50" stroke="#ee98a8" stroke-width="1.6"/>
<line x1="665.63" y1="141.50" x2="670.33" y2="141.50" stroke="#ee98a8" stroke-width="1.6"/>
<line x1="672.85" y1="141.50" x2="677.55" y2="141.50" stroke="#ee98a8" stroke-width="1.6"/>
<line x1="393.62" y1="130.51" x2="393.62" y2="179.89" stroke="#a08068" stroke-width="1" stroke-dasharray="1 1.5"/>
<line x1="400.84" y1="128.78" x2="400.84" y2="169.62" stroke="#a08068" stroke-width="1" stroke-dasharray="1 1.5"/>
<line x1="408.06" y1="162.83" x2="408.06" y2="201.51" stroke="#a08068" stroke-width="1" stroke-dasharray="1 1.5"/>
<line x1="415.28" y1="138.82" x2="415.28" y2="176.93" stroke="#a08068" stroke-width="1" stroke-dasharray="1 1.5"/>
<line x1="422.50" y1="137.23" x2="422.50" y2="187.48" stroke="#a08068" stroke-width="1" stroke-dasharray="1 1.5"/>
<line x1="429.72" y1="145.12" x2="429.72" y2="184.01" stroke="#a08068" stroke-width="1" stroke-dasharray="1 1.5"/>
<line x1="436.94" y1="123.50" x2="436.94" y2="163.05" stroke="#a08068" stroke-width="1" stroke-dasharray="1 1.5"/>
<line x1="444.16" y1="130.80" x2="444.16" y2="169.62" stroke="#a08068" stroke-width="1" stroke-dasharray="1 1.5"/>
<line x1="451.38" y1="119.81" x2="451.38" y2="171.14" stroke="#a08068" stroke-width="1" stroke-dasharray="1 1.5"/>
<line x1="458.60" y1="125.88" x2="458.60" y2="165.79" stroke="#a08068" stroke-width="1" stroke-dasharray="1 1.5"/>
<line x1="465.82" y1="130.51" x2="465.82" y2="171.14" stroke="#a08068" stroke-width="1" stroke-dasharray="1 1.5"/>
<line x1="473.04" y1="34.50" x2="473.04" y2="174.83" stroke="#a08068" stroke-width="1" stroke-dasharray="1 1.5"/>
<line x1="480.26" y1="130.29" x2="480.26" y2="168.03" stroke="#a08068" stroke-width="1" stroke-dasharray="1 1.5"/>
<line x1="487.48" y1="132.03" x2="487.48" y2="170.28" stroke="#a08068" stroke-width="1" stroke-dasharray="1 1.5"/>
<line x1="494.70" y1="131.09" x2="494.70" y2="168.83" stroke="#a08068" stroke-width="1" stroke-dasharray="1 1.5"/>
<line x1="501.92" y1="130.80" x2="501.92" y2="168.83" stroke="#a08068" stroke-width="1" stroke-dasharray="1 1.5"/>
<line x1="509.14" y1="127.04" x2="509.14" y2="165.79" stroke="#a08068" stroke-width="1" stroke-dasharray="1 1.5"/>
<line x1="516.36" y1="131.52" x2="516.36" y2="180.98" stroke="#a08068" stroke-width="1" stroke-dasharray="1 1.5"/>
<line x1="523.58" y1="76.94" x2="523.58" y2="120.75" stroke="#a08068" stroke-width="1" stroke-dasharray="1 1.5"/>
<line x1="530.80" y1="115.62" x2="530.80" y2="171.87" stroke="#a08068" stroke-width="1" stroke-dasharray="1 1.5"/>
<line x1="538.02" y1="129.57" x2="538.02" y2="168.03" stroke="#a08068" stroke-width="1" stroke-dasharray="1 1.5"/>
<line x1="545.24" y1="132.03" x2="545.24" y2="174.83" stroke="#a08068" stroke-width="1" stroke-dasharray="1 1.5"/>
<line x1="552.46" y1="119.88" x2="552.46" y2="165.00" stroke="#a08068" stroke-width="1" stroke-dasharray="1 1.5"/>
<line x1="559.68" y1="130.00" x2="559.68" y2="168.03" stroke="#a08068" stroke-width="1" stroke-dasharray="1 1.5"/>
<line x1="566.90" y1="125.88" x2="566.90" y2="165.65" stroke="#a08068" stroke-width="1" stroke-dasharray="1 1.5"/>
<line x1="574.12" y1="126.17" x2="574.12" y2="167.31" stroke="#a08068" stroke-width="1" stroke-dasharray="1 1.5"/>
<line x1="581.34" y1="134.13" x2="581.34" y2="178.73" stroke="#a08068" stroke-width="1" stroke-dasharray="1 1.5"/>
<line x1="588.56" y1="129.21" x2="588.56" y2="167.31" stroke="#a08068" stroke-width="1" stroke-dasharray="1 1.5"/>
<line x1="595.78" y1="82.29" x2="595.78" y2="195.72" stroke="#a08068" stroke-width="1" stroke-dasharray="1 1.5"/>
<line x1="603.00" y1="127.98" x2="603.00" y2="217.42" stroke="#a08068" stroke-width="1" stroke-dasharray="1 1.5"/>
<line x1="610.22" y1="129.35" x2="610.22" y2="167.60" stroke="#a08068" stroke-width="1" stroke-dasharray="1 1.5"/>
<line x1="617.44" y1="130.15" x2="617.44" y2="168.54" stroke="#a08068" stroke-width="1" stroke-dasharray="1 1.5"/>
<line x1="624.66" y1="113.52" x2="624.66" y2="173.17" stroke="#a08068" stroke-width="1" stroke-dasharray="1 1.5"/>
<line x1="631.88" y1="129.57" x2="631.88" y2="168.11" stroke="#a08068" stroke-width="1" stroke-dasharray="1 1.5"/>
<line x1="639.10" y1="123.71" x2="639.10" y2="163.99" stroke="#a08068" stroke-width="1" stroke-dasharray="1 1.5"/>
<line x1="646.32" y1="123.71" x2="646.32" y2="163.99" stroke="#a08068" stroke-width="1" stroke-dasharray="1 1.5"/>
<line x1="653.54" y1="121.98" x2="653.54" y2="161.67" stroke="#a08068" stroke-width="1" stroke-dasharray="1 1.5"/>
<line x1="660.76" y1="130.00" x2="660.76" y2="168.61" stroke="#a08068" stroke-width="1" stroke-dasharray="1 1.5"/>
<line x1="667.98" y1="114.10" x2="667.98" y2="172.59" stroke="#a08068" stroke-width="1" stroke-dasharray="1 1.5"/>
<line x1="675.20" y1="134.92" x2="675.20" y2="172.59" stroke="#a08068" stroke-width="1" stroke-dasharray="1 1.5"/>
<path d="M390.57 128.36H396.67L393.62 133.46Z" fill="#8a5528"/>
<path d="M390.57 182.44H396.67L393.62 177.34Z" fill="#8a5528"/>
<path d="M397.79 126.63H403.89L400.84 131.73Z" fill="#8a5528"/>
<path d="M397.79 172.17H403.89L400.84 167.07Z" fill="#8a5528"/>
<path d="M405.01 160.68H411.11L408.06 165.78Z" fill="#8a5528"/>
<path d="M405.01 204.06H411.11L408.06 198.96Z" fill="#8a5528"/>
<path d="M412.23 136.67H418.33L415.28 141.77Z" fill="#8a5528"/>
<path d="M412.23 179.48H418.33L415.28 174.38Z" fill="#8a5528"/>
<path d="M419.45 135.08H425.55L422.50 140.18Z" fill="#8a5528"/>
<path d="M419.45 190.03H425.55L422.50 184.93Z" fill="#8a5528"/>
<path d="M426.67 142.97H432.77L429.72 148.07Z" fill="#8a5528"/>
<path d="M426.67 186.56H432.77L429.72 181.46Z" fill="#8a5528"/>
<path d="M433.89 121.35H439.99L436.94 126.45Z" fill="#8a5528"/>
<path d="M433.89 165.60H439.99L436.94 160.50Z" fill="#8a5528"/>
<path d="M441.11 128.65H447.21L444.16 133.75Z" fill="#8a5528"/>
<path d="M441.11 172.17H447.21L444.16 167.07Z" fill="#8a5528"/>
<path d="M448.33 117.66H454.43L451.38 122.76Z" fill="#8a5528"/>
<path d="M448.33 173.69H454.43L451.38 168.59Z" fill="#8a5528"/>
<path d="M455.55 123.73H461.65L458.60 128.83Z" fill="#8a5528"/>
<path d="M455.55 168.34H461.65L458.60 163.24Z" fill="#8a5528"/>
<path d="M462.77 128.36H468.87L465.82 133.46Z" fill="#8a5528"/>
<path d="M462.77 173.69H468.87L465.82 168.59Z" fill="#8a5528"/>
<path d="M469.99 32.35H476.09L473.04 37.45Z" fill="#8a5528"/>
<path d="M469.99 177.38H476.09L473.04 172.28Z" fill="#8a5528"/>
<path d="M477.21 128.14H483.31L480.26 133.24Z" fill="#8a5528"/>
<path d="M477.21 170.58H483.31L480.26 165.48Z" fill="#8a5528"/>
<path d="M484.43 129.88H490.53L487.48 134.98Z" fill="#8a5528"/>
<path d="M484.43 172.83H490.53L487.48 167.73Z" fill="#8a5528"/>
<path d="M491.65 128.94H497.75L494.70 134.04Z" fill="#8a5528"/>
<path d="M491.65 171.38H497.75L494.70 166.28Z" fill="#8a5528"/>
<path d="M498.87 128.65H504.97L501.92 133.75Z" fill="#8a5528"/>
<path d="M498.87 171.38H504.97L501.92 166.28Z" fill="#8a5528"/>
<path d="M506.09 124.89H512.19L509.14 129.99Z" fill="#8a5528"/>
<path d="M506.09 168.34H512.19L509.14 163.24Z" fill="#8a5528"/>
<path d="M513.31 129.37H519.41L516.36 134.47Z" fill="#8a5528"/>
<path d="M513.31 183.53H519.41L516.36 178.43Z" fill="#8a5528"/>
<path d="M520.53 74.79H526.63L523.58 79.89Z" fill="#8a5528"/>
<path d="M520.53 123.30H526.63L523.58 118.20Z" fill="#8a5528"/>
<path d="M527.75 113.47H533.85L530.80 118.57Z" fill="#8a5528"/>
<path d="M527.75 174.42H533.85L530.80 169.32Z" fill="#8a5528"/>
<path d="M534.97 127.42H541.07L538.02 132.52Z" fill="#8a5528"/>
<path d="M534.97 170.58H541.07L538.02 165.48Z" fill="#8a5528"/>
<path d="M542.19 129.88H548.29L545.24 134.98Z" fill="#8a5528"/>
<path d="M542.19 177.38H548.29L545.24 172.28Z" fill="#8a5528"/>
<path d="M549.41 117.73H555.51L552.46 122.83Z" fill="#8a5528"/>
<path d="M549.41 167.55H555.51L552.46 162.45Z" fill="#8a5528"/>
<path d="M556.63 127.85H562.73L559.68 132.95Z" fill="#8a5528"/>
<path d="M556.63 170.58H562.73L559.68 165.48Z" fill="#8a5528"/>
<path d="M563.85 123.73H569.95L566.90 128.83Z" fill="#8a5528"/>
<path d="M563.85 168.20H569.95L566.90 163.10Z" fill="#8a5528"/>
<path d="M571.07 124.02H577.17L574.12 129.12Z" fill="#8a5528"/>
<path d="M571.07 169.86H577.17L574.12 164.76Z" fill="#8a5528"/>
<path d="M578.29 131.98H584.39L581.34 137.08Z" fill="#8a5528"/>
<path d="M578.29 181.28H584.39L581.34 176.18Z" fill="#8a5528"/>
<path d="M585.51 127.06H591.61L588.56 132.16Z" fill="#8a5528"/>
<path d="M585.51 169.86H591.61L588.56 164.76Z" fill="#8a5528"/>
<path d="M592.73 80.14H598.83L595.78 85.24Z" fill="#8a5528"/>
<path d="M592.73 198.28H598.83L595.78 193.17Z" fill="#8a5528"/>
<path d="M599.95 136.75H606.05L603.00 141.85Z" fill="#8a5528"/>
<path d="M599.95 219.97H606.05L603.00 214.87Z" fill="#8a5528"/>
<path d="M607.17 127.20H613.27L610.22 132.30Z" fill="#8a5528"/>
<path d="M607.17 170.15H613.27L610.22 165.05Z" fill="#8a5528"/>
<path d="M614.39 128.00H620.49L617.44 133.10Z" fill="#8a5528"/>
<path d="M614.39 171.09H620.49L617.44 165.99Z" fill="#8a5528"/>
<path d="M621.61 111.37H627.71L624.66 116.47Z" fill="#8a5528"/>
<path d="M621.61 175.72H627.71L624.66 170.62Z" fill="#8a5528"/>
<path d="M628.83 127.42H634.93L631.88 132.52Z" fill="#8a5528"/>
<path d="M628.83 170.66H634.93L631.88 165.56Z" fill="#8a5528"/>
<path d="M636.05 121.56H642.15L639.10 126.66Z" fill="#8a5528"/>
<path d="M636.05 166.54H642.15L639.10 161.44Z" fill="#8a5528"/>
<path d="M643.27 121.56H649.37L646.32 126.66Z" fill="#8a5528"/>
<path d="M643.27 166.54H649.37L646.32 161.44Z" fill="#8a5528"/>
<path d="M650.49 119.83H656.59L653.54 124.93Z" fill="#8a5528"/>
<path d="M650.49 164.22H656.59L653.54 159.12Z" fill="#8a5528"/>
<path d="M657.71 127.85H663.81L660.76 132.95Z" fill="#8a5528"/>
<path d="M657.71 171.16H663.81L660.76 166.06Z" fill="#8a5528"/>
<path d="M664.93 111.95H671.03L667.98 117.05Z" fill="#8a5528"/>
<path d="M664.93 175.14H671.03L667.98 170.04Z" fill="#8a5528"/>
<path d="M672.15 132.77H678.25L675.20 137.87Z" fill="#8a5528"/>
<path d="M672.15 175.14H678.25L675.20 170.04Z" fill="#8a5528"/>
<path d="M390.57 138.48H396.67L393.62 143.58Z" fill="#10b05a"/>
<path d="M390.57 172.83H396.67L393.62 167.73Z" fill="#10b05a"/>
<path d="M397.79 140.07H403.89L400.84 145.17Z" fill="#10b05a"/>
<path d="M397.79 155.47H403.89L400.84 150.37Z" fill="#10b05a"/>
<path d="M405.01 178.54H411.11L408.06 183.64Z" fill="#10b05a"/>
<path d="M405.01 186.56H411.11L408.06 181.46Z" fill="#10b05a"/>
<path d="M412.23 155.26H418.33L415.28 160.36Z" fill="#10b05a"/>
<path d="M412.23 162.12H418.33L415.28 157.02Z" fill="#10b05a"/>
<path d="M419.45 154.82H425.55L422.50 159.92Z" fill="#10b05a"/>
<path d="M419.45 165.74H425.55L422.50 160.64Z" fill="#10b05a"/>
<path d="M426.67 169.07H432.77L429.72 163.97Z" fill="#10b05a"/>
<path d="M433.89 138.19H439.99L436.94 143.29Z" fill="#10b05a"/>
<path d="M433.89 149.98H439.99L436.94 144.88Z" fill="#10b05a"/>
<path d="M441.11 147.16H447.21L444.16 152.26Z" fill="#10b05a"/>
<path d="M441.11 153.88H447.21L444.16 148.78Z" fill="#10b05a"/>
<path d="M448.33 127.13H454.43L451.38 132.23Z" fill="#10b05a"/>
<path d="M448.33 164.15H454.43L451.38 159.05Z" fill="#10b05a"/>
<path d="M455.55 140.43H461.65L458.60 145.53Z" fill="#10b05a"/>
<path d="M455.55 152.44H461.65L458.60 147.34Z" fill="#10b05a"/>
<path d="M462.77 135.88H468.87L465.82 140.98Z" fill="#10b05a"/>
<path d="M462.77 158.94H468.87L465.82 153.84Z" fill="#10b05a"/>
<path d="M469.99 35.45H476.09L473.04 40.55Z" fill="#10b05a"/>
<path d="M469.99 175.28H476.09L473.04 170.18Z" fill="#10b05a"/>
<path d="M477.21 147.52H483.31L480.26 152.62Z" fill="#10b05a"/>
<path d="M477.21 152.22H483.31L480.26 147.12Z" fill="#10b05a"/>
<path d="M484.43 145.06H490.53L487.48 150.16Z" fill="#10b05a"/>
<path d="M484.43 155.55H490.53L487.48 150.45Z" fill="#10b05a"/>
<path d="M491.65 144.27H497.75L494.70 149.37Z" fill="#10b05a"/>
<path d="M491.65 153.88H497.75L494.70 148.78Z" fill="#10b05a"/>
<path d="M498.87 147.16H504.97L501.92 152.26Z" fill="#10b05a"/>
<path d="M498.87 154.75H504.97L501.92 149.65Z" fill="#10b05a"/>
<path d="M506.09 141.74H512.19L509.14 146.84Z" fill="#10b05a"/>
<path d="M506.09 151.86H512.19L509.14 146.76Z" fill="#10b05a"/>
<path d="M513.31 139.28H519.41L516.36 144.38Z" fill="#10b05a"/>
<path d="M513.31 170.29H519.41L516.36 165.19Z" fill="#10b05a"/>
<path d="M520.53 92.57H526.63L523.58 97.67Z" fill="#10b05a"/>
<path d="M520.53 115.93H526.63L523.58 110.83Z" fill="#10b05a"/>
<path d="M527.75 132.48H533.85L530.80 137.58Z" fill="#10b05a"/>
<path d="M527.75 156.85H533.85L530.80 151.75Z" fill="#10b05a"/>
<path d="M534.97 148.03H541.07L538.02 153.13Z" fill="#10b05a"/>
<path d="M534.97 150.99H541.07L538.02 145.89Z" fill="#10b05a"/>
<path d="M542.19 142.17H548.29L545.24 147.27Z" fill="#10b05a"/>
<path d="M542.19 165.67H548.29L545.24 160.57Z" fill="#10b05a"/>
<path d="M549.41 129.37H555.51L552.46 134.47Z" fill="#10b05a"/>
<path d="M549.41 156.85H555.51L552.46 151.75Z" fill="#10b05a"/>
<path d="M556.63 148.17H562.73L559.68 153.27Z" fill="#10b05a"/>
<path d="M556.63 151.14H562.73L559.68 146.04Z" fill="#10b05a"/>
<path d="M563.85 139.86H569.95L566.90 144.96Z" fill="#10b05a"/>
<path d="M563.85 152.87H569.95L566.90 147.77Z" fill="#10b05a"/>
<path d="M571.07 139.28H577.17L574.12 144.38Z" fill="#10b05a"/>
<path d="M571.07 155.98H577.17L574.12 150.88Z" fill="#10b05a"/>
<path d="M578.29 143.83H584.39L581.34 148.93Z" fill="#10b05a"/>
<path d="M578.29 170.58H584.39L581.34 165.48Z" fill="#10b05a"/>
<path d="M585.51 146.72H591.61L588.56 151.82Z" fill="#10b05a"/>
<path d="M585.51 151.42H591.61L588.56 146.32Z" fill="#10b05a"/>
<path d="M592.73 84.04H598.83L595.78 89.14Z" fill="#10b05a"/>
<path d="M592.73 195.24H598.83L595.78 190.14Z" fill="#10b05a"/>
<path d="M599.95 125.83H606.05L603.00 130.93Z" fill="#10b05a"/>
<path d="M599.95 216.06H606.05L603.00 210.96Z" fill="#10b05a"/>
<path d="M607.17 146.94H613.27L610.22 152.04Z" fill="#10b05a"/>
<path d="M607.17 151.64H613.27L610.22 146.54Z" fill="#10b05a"/>
<path d="M614.39 148.17H620.49L617.44 153.27Z" fill="#10b05a"/>
<path d="M614.39 151.14H620.49L617.44 146.04Z" fill="#10b05a"/>
<path d="M621.61 118.82H627.71L624.66 123.92Z" fill="#10b05a"/>
<path d="M621.61 169.07H627.71L624.66 163.97Z" fill="#10b05a"/>
<path d="M628.83 147.09H634.93L631.88 152.19Z" fill="#10b05a"/>
<path d="M628.83 151.79H634.93L631.88 146.69Z" fill="#10b05a"/>
<path d="M636.05 136.17H642.15L639.10 141.27Z" fill="#10b05a"/>
<path d="M636.05 152.87H642.15L639.10 147.77Z" fill="#10b05a"/>
<path d="M643.27 136.24H649.37L646.32 141.34Z" fill="#10b05a"/>
<path d="M643.27 153.02H649.37L646.32 147.92Z" fill="#10b05a"/>
<path d="M650.49 135.37H656.59L653.54 140.47Z" fill="#10b05a"/>
<path d="M650.49 149.18H656.59L653.54 144.08Z" fill="#10b05a"/>
<path d="M657.71 147.59H663.81L660.76 152.69Z" fill="#10b05a"/>
<path d="M657.71 152.29H663.81L660.76 147.19Z" fill="#10b05a"/>
<path d="M664.93 119.03H671.03L667.98 124.13Z" fill="#10b05a"/>
<path d="M664.93 168.20H671.03L667.98 163.10Z" fill="#10b05a"/>
<path d="M672.15 149.83H678.25L675.20 154.93Z" fill="#10b05a"/>
<path d="M672.15 158.08H678.25L675.20 152.98Z" fill="#10b05a"/>
<path d="M386.40 0.5H682.42M386.40 228.5H682.42" stroke="#3a3a3a" stroke-width="1.05" fill="none"/>
<path d="M386.40 0V229M682.42 0V229" stroke="#3a3a3a" stroke-width="1.25" fill="none"/>
<line x1="386.40" y1="228.50" x2="386.40" y2="224.10" stroke="#3a3a3a" stroke-width="1"/>
<line x1="386.40" y1="0.50" x2="386.40" y2="4.90" stroke="#3a3a3a" stroke-width="1"/>
<line x1="393.62" y1="228.50" x2="393.62" y2="226.00" stroke="#3a3a3a" stroke-width="1"/>
<line x1="393.62" y1="0.50" x2="393.62" y2="3.00" stroke="#3a3a3a" stroke-width="1"/>
<line x1="400.84" y1="228.50" x2="400.84" y2="226.00" stroke="#3a3a3a" stroke-width="1"/>
<line x1="400.84" y1="0.50" x2="400.84" y2="3.00" stroke="#3a3a3a" stroke-width="1"/>
<line x1="408.06" y1="228.50" x2="408.06" y2="226.00" stroke="#3a3a3a" stroke-width="1"/>
<line x1="408.06" y1="0.50" x2="408.06" y2="3.00" stroke="#3a3a3a" stroke-width="1"/>
<line x1="415.28" y1="228.50" x2="415.28" y2="226.00" stroke="#3a3a3a" stroke-width="1"/>
<line x1="415.28" y1="0.50" x2="415.28" y2="3.00" stroke="#3a3a3a" stroke-width="1"/>
<line x1="422.50" y1="228.50" x2="422.50" y2="224.10" stroke="#3a3a3a" stroke-width="1"/>
<line x1="422.50" y1="0.50" x2="422.50" y2="4.90" stroke="#3a3a3a" stroke-width="1"/>
<line x1="429.72" y1="228.50" x2="429.72" y2="226.00" stroke="#3a3a3a" stroke-width="1"/>
<line x1="429.72" y1="0.50" x2="429.72" y2="3.00" stroke="#3a3a3a" stroke-width="1"/>
<line x1="436.94" y1="228.50" x2="436.94" y2="226.00" stroke="#3a3a3a" stroke-width="1"/>
<line x1="436.94" y1="0.50" x2="436.94" y2="3.00" stroke="#3a3a3a" stroke-width="1"/>
<line x1="444.16" y1="228.50" x2="444.16" y2="226.00" stroke="#3a3a3a" stroke-width="1"/>
<line x1="444.16" y1="0.50" x2="444.16" y2="3.00" stroke="#3a3a3a" stroke-width="1"/>
<line x1="451.38" y1="228.50" x2="451.38" y2="226.00" stroke="#3a3a3a" stroke-width="1"/>
<line x1="451.38" y1="0.50" x2="451.38" y2="3.00" stroke="#3a3a3a" stroke-width="1"/>
<line x1="458.60" y1="228.50" x2="458.60" y2="224.10" stroke="#3a3a3a" stroke-width="1"/>
<line x1="458.60" y1="0.50" x2="458.60" y2="4.90" stroke="#3a3a3a" stroke-width="1"/>
<line x1="465.82" y1="228.50" x2="465.82" y2="226.00" stroke="#3a3a3a" stroke-width="1"/>
<line x1="465.82" y1="0.50" x2="465.82" y2="3.00" stroke="#3a3a3a" stroke-width="1"/>
<line x1="473.04" y1="228.50" x2="473.04" y2="226.00" stroke="#3a3a3a" stroke-width="1"/>
<line x1="473.04" y1="0.50" x2="473.04" y2="3.00" stroke="#3a3a3a" stroke-width="1"/>
<line x1="480.26" y1="228.50" x2="480.26" y2="226.00" stroke="#3a3a3a" stroke-width="1"/>
<line x1="480.26" y1="0.50" x2="480.26" y2="3.00" stroke="#3a3a3a" stroke-width="1"/>
<line x1="487.48" y1="228.50" x2="487.48" y2="226.00" stroke="#3a3a3a" stroke-width="1"/>
<line x1="487.48" y1="0.50" x2="487.48" y2="3.00" stroke="#3a3a3a" stroke-width="1"/>
<line x1="494.70" y1="228.50" x2="494.70" y2="224.10" stroke="#3a3a3a" stroke-width="1"/>
<line x1="494.70" y1="0.50" x2="494.70" y2="4.90" stroke="#3a3a3a" stroke-width="1"/>
<line x1="501.92" y1="228.50" x2="501.92" y2="226.00" stroke="#3a3a3a" stroke-width="1"/>
<line x1="501.92" y1="0.50" x2="501.92" y2="3.00" stroke="#3a3a3a" stroke-width="1"/>
<line x1="509.14" y1="228.50" x2="509.14" y2="226.00" stroke="#3a3a3a" stroke-width="1"/>
<line x1="509.14" y1="0.50" x2="509.14" y2="3.00" stroke="#3a3a3a" stroke-width="1"/>
<line x1="516.36" y1="228.50" x2="516.36" y2="226.00" stroke="#3a3a3a" stroke-width="1"/>
<line x1="516.36" y1="0.50" x2="516.36" y2="3.00" stroke="#3a3a3a" stroke-width="1"/>
<line x1="523.58" y1="228.50" x2="523.58" y2="226.00" stroke="#3a3a3a" stroke-width="1"/>
<line x1="523.58" y1="0.50" x2="523.58" y2="3.00" stroke="#3a3a3a" stroke-width="1"/>
<line x1="530.80" y1="228.50" x2="530.80" y2="224.10" stroke="#3a3a3a" stroke-width="1"/>
<line x1="530.80" y1="0.50" x2="530.80" y2="4.90" stroke="#3a3a3a" stroke-width="1"/>
<line x1="538.02" y1="228.50" x2="538.02" y2="226.00" stroke="#3a3a3a" stroke-width="1"/>
<line x1="538.02" y1="0.50" x2="538.02" y2="3.00" stroke="#3a3a3a" stroke-width="1"/>
<line x1="545.24" y1="228.50" x2="545.24" y2="226.00" stroke="#3a3a3a" stroke-width="1"/>
<line x1="545.24" y1="0.50" x2="545.24" y2="3.00" stroke="#3a3a3a" stroke-width="1"/>
<line x1="552.46" y1="228.50" x2="552.46" y2="226.00" stroke="#3a3a3a" stroke-width="1"/>
<line x1="552.46" y1="0.50" x2="552.46" y2="3.00" stroke="#3a3a3a" stroke-width="1"/>
<line x1="559.68" y1="228.50" x2="559.68" y2="226.00" stroke="#3a3a3a" stroke-width="1"/>
<line x1="559.68" y1="0.50" x2="559.68" y2="3.00" stroke="#3a3a3a" stroke-width="1"/>
<line x1="566.90" y1="228.50" x2="566.90" y2="224.10" stroke="#3a3a3a" stroke-width="1"/>
<line x1="566.90" y1="0.50" x2="566.90" y2="4.90" stroke="#3a3a3a" stroke-width="1"/>
<line x1="574.12" y1="228.50" x2="574.12" y2="226.00" stroke="#3a3a3a" stroke-width="1"/>
<line x1="574.12" y1="0.50" x2="574.12" y2="3.00" stroke="#3a3a3a" stroke-width="1"/>
<line x1="581.34" y1="228.50" x2="581.34" y2="226.00" stroke="#3a3a3a" stroke-width="1"/>
<line x1="581.34" y1="0.50" x2="581.34" y2="3.00" stroke="#3a3a3a" stroke-width="1"/>
<line x1="588.56" y1="228.50" x2="588.56" y2="226.00" stroke="#3a3a3a" stroke-width="1"/>
<line x1="588.56" y1="0.50" x2="588.56" y2="3.00" stroke="#3a3a3a" stroke-width="1"/>
<line x1="595.78" y1="228.50" x2="595.78" y2="226.00" stroke="#3a3a3a" stroke-width="1"/>
<line x1="595.78" y1="0.50" x2="595.78" y2="3.00" stroke="#3a3a3a" stroke-width="1"/>
<line x1="603.00" y1="228.50" x2="603.00" y2="224.10" stroke="#3a3a3a" stroke-width="1"/>
<line x1="603.00" y1="0.50" x2="603.00" y2="4.90" stroke="#3a3a3a" stroke-width="1"/>
<line x1="610.22" y1="228.50" x2="610.22" y2="226.00" stroke="#3a3a3a" stroke-width="1"/>
<line x1="610.22" y1="0.50" x2="610.22" y2="3.00" stroke="#3a3a3a" stroke-width="1"/>
<line x1="617.44" y1="228.50" x2="617.44" y2="226.00" stroke="#3a3a3a" stroke-width="1"/>
<line x1="617.44" y1="0.50" x2="617.44" y2="3.00" stroke="#3a3a3a" stroke-width="1"/>
<line x1="624.66" y1="228.50" x2="624.66" y2="226.00" stroke="#3a3a3a" stroke-width="1"/>
<line x1="624.66" y1="0.50" x2="624.66" y2="3.00" stroke="#3a3a3a" stroke-width="1"/>
<line x1="631.88" y1="228.50" x2="631.88" y2="226.00" stroke="#3a3a3a" stroke-width="1"/>
<line x1="631.88" y1="0.50" x2="631.88" y2="3.00" stroke="#3a3a3a" stroke-width="1"/>
<line x1="639.10" y1="228.50" x2="639.10" y2="224.10" stroke="#3a3a3a" stroke-width="1"/>
<line x1="639.10" y1="0.50" x2="639.10" y2="4.90" stroke="#3a3a3a" stroke-width="1"/>
<line x1="646.32" y1="228.50" x2="646.32" y2="226.00" stroke="#3a3a3a" stroke-width="1"/>
<line x1="646.32" y1="0.50" x2="646.32" y2="3.00" stroke="#3a3a3a" stroke-width="1"/>
<line x1="653.54" y1="228.50" x2="653.54" y2="226.00" stroke="#3a3a3a" stroke-width="1"/>
<line x1="653.54" y1="0.50" x2="653.54" y2="3.00" stroke="#3a3a3a" stroke-width="1"/>
<line x1="660.76" y1="228.50" x2="660.76" y2="226.00" stroke="#3a3a3a" stroke-width="1"/>
<line x1="660.76" y1="0.50" x2="660.76" y2="3.00" stroke="#3a3a3a" stroke-width="1"/>
<line x1="667.98" y1="228.50" x2="667.98" y2="226.00" stroke="#3a3a3a" stroke-width="1"/>
<line x1="667.98" y1="0.50" x2="667.98" y2="3.00" stroke="#3a3a3a" stroke-width="1"/>
<line x1="675.20" y1="228.50" x2="675.20" y2="224.10" stroke="#3a3a3a" stroke-width="1"/>
<line x1="675.20" y1="0.50" x2="675.20" y2="4.90" stroke="#3a3a3a" stroke-width="1"/>
<line x1="682.42" y1="228.50" x2="682.42" y2="226.00" stroke="#3a3a3a" stroke-width="1"/>
<line x1="682.42" y1="0.50" x2="682.42" y2="3.00" stroke="#3a3a3a" stroke-width="1"/>
<line x1="386.40" y1="228.26" x2="390.80" y2="228.26" stroke="#3a3a3a" stroke-width="1"/>
<line x1="682.42" y1="228.26" x2="678.02" y2="228.26" stroke="#3a3a3a" stroke-width="1"/>
<line x1="386.40" y1="217.42" x2="388.90" y2="217.42" stroke="#3a3a3a" stroke-width="1"/>
<line x1="682.42" y1="217.42" x2="679.92" y2="217.42" stroke="#3a3a3a" stroke-width="1"/>
<line x1="386.40" y1="206.57" x2="388.90" y2="206.57" stroke="#3a3a3a" stroke-width="1"/>
<line x1="682.42" y1="206.57" x2="679.92" y2="206.57" stroke="#3a3a3a" stroke-width="1"/>
<line x1="386.40" y1="195.72" x2="388.90" y2="195.72" stroke="#3a3a3a" stroke-width="1"/>
<line x1="682.42" y1="195.72" x2="679.92" y2="195.72" stroke="#3a3a3a" stroke-width="1"/>
<line x1="386.40" y1="184.88" x2="390.80" y2="184.88" stroke="#3a3a3a" stroke-width="1"/>
<line x1="682.42" y1="184.88" x2="678.02" y2="184.88" stroke="#3a3a3a" stroke-width="1"/>
<line x1="386.40" y1="174.03" x2="388.90" y2="174.03" stroke="#3a3a3a" stroke-width="1"/>
<line x1="682.42" y1="174.03" x2="679.92" y2="174.03" stroke="#3a3a3a" stroke-width="1"/>
<line x1="386.40" y1="163.19" x2="388.90" y2="163.19" stroke="#3a3a3a" stroke-width="1"/>
<line x1="682.42" y1="163.19" x2="679.92" y2="163.19" stroke="#3a3a3a" stroke-width="1"/>
<line x1="386.40" y1="152.34" x2="388.90" y2="152.34" stroke="#3a3a3a" stroke-width="1"/>
<line x1="682.42" y1="152.34" x2="679.92" y2="152.34" stroke="#3a3a3a" stroke-width="1"/>
<line x1="386.40" y1="141.50" x2="390.80" y2="141.50" stroke="#3a3a3a" stroke-width="1"/>
<line x1="682.42" y1="141.50" x2="678.02" y2="141.50" stroke="#3a3a3a" stroke-width="1"/>
<line x1="386.40" y1="130.66" x2="388.90" y2="130.66" stroke="#3a3a3a" stroke-width="1"/>
<line x1="682.42" y1="130.66" x2="679.92" y2="130.66" stroke="#3a3a3a" stroke-width="1"/>
<line x1="386.40" y1="119.81" x2="388.90" y2="119.81" stroke="#3a3a3a" stroke-width="1"/>
<line x1="682.42" y1="119.81" x2="679.92" y2="119.81" stroke="#3a3a3a" stroke-width="1"/>
<line x1="386.40" y1="108.97" x2="388.90" y2="108.97" stroke="#3a3a3a" stroke-width="1"/>
<line x1="682.42" y1="108.97" x2="679.92" y2="108.97" stroke="#3a3a3a" stroke-width="1"/>
<line x1="386.40" y1="98.12" x2="390.80" y2="98.12" stroke="#3a3a3a" stroke-width="1"/>
<line x1="682.42" y1="98.12" x2="678.02" y2="98.12" stroke="#3a3a3a" stroke-width="1"/>
<line x1="386.40" y1="87.28" x2="388.90" y2="87.28" stroke="#3a3a3a" stroke-width="1"/>
<line x1="682.42" y1="87.28" x2="679.92" y2="87.28" stroke="#3a3a3a" stroke-width="1"/>
<line x1="386.40" y1="76.43" x2="388.90" y2="76.43" stroke="#3a3a3a" stroke-width="1"/>
<line x1="682.42" y1="76.43" x2="679.92" y2="76.43" stroke="#3a3a3a" stroke-width="1"/>
<line x1="386.40" y1="65.58" x2="388.90" y2="65.58" stroke="#3a3a3a" stroke-width="1"/>
<line x1="682.42" y1="65.58" x2="679.92" y2="65.58" stroke="#3a3a3a" stroke-width="1"/>
<line x1="386.40" y1="54.74" x2="390.80" y2="54.74" stroke="#3a3a3a" stroke-width="1"/>
<line x1="682.42" y1="54.74" x2="678.02" y2="54.74" stroke="#3a3a3a" stroke-width="1"/>
<line x1="386.40" y1="43.89" x2="388.90" y2="43.89" stroke="#3a3a3a" stroke-width="1"/>
<line x1="682.42" y1="43.89" x2="679.92" y2="43.89" stroke="#3a3a3a" stroke-width="1"/>
<line x1="386.40" y1="33.05" x2="388.90" y2="33.05" stroke="#3a3a3a" stroke-width="1"/>
<line x1="682.42" y1="33.05" x2="679.92" y2="33.05" stroke="#3a3a3a" stroke-width="1"/>
<line x1="386.40" y1="22.20" x2="388.90" y2="22.20" stroke="#3a3a3a" stroke-width="1"/>
<line x1="682.42" y1="22.20" x2="679.92" y2="22.20" stroke="#3a3a3a" stroke-width="1"/>
<line x1="386.40" y1="11.36" x2="390.80" y2="11.36" stroke="#3a3a3a" stroke-width="1"/>
<line x1="682.42" y1="11.36" x2="678.02" y2="11.36" stroke="#3a3a3a" stroke-width="1"/>
<line x1="386.40" y1="0.51" x2="388.90" y2="0.51" stroke="#3a3a3a" stroke-width="1"/>
<line x1="682.42" y1="0.51" x2="679.92" y2="0.51" stroke="#3a3a3a" stroke-width="1"/>
<text x="387.20" y="246" text-anchor="middle" font-size="16" style="font-family:'Liberation Serif',serif">0</text>
<text x="423.30" y="246" text-anchor="middle" font-size="16" style="font-family:'Liberation Serif',serif">5</text>
<text x="460.60" y="246" text-anchor="middle" font-size="16" style="font-family:'Liberation Serif',serif">10</text>
<text x="496.70" y="246" text-anchor="middle" font-size="16" style="font-family:'Liberation Serif',serif">15</text>
<text x="532.80" y="246" text-anchor="middle" font-size="16" style="font-family:'Liberation Serif',serif">20</text>
<text x="568.90" y="246" text-anchor="middle" font-size="16" style="font-family:'Liberation Serif',serif">25</text>
<text x="605.00" y="246" text-anchor="middle" font-size="16" style="font-family:'Liberation Serif',serif">30</text>
<text x="641.10" y="246" text-anchor="middle" font-size="16" style="font-family:'Liberation Serif',serif">35</text>
<text x="677.20" y="246" text-anchor="middle" font-size="16" style="font-family:'Liberation Serif',serif">40</text>
<text x="371.40" y="234.26" text-anchor="middle" font-size="16" style="font-family:'Liberation Serif',serif">-12</text>
<text x="371.40" y="190.88" text-anchor="middle" font-size="16" style="font-family:'Liberation Serif',serif">-6</text>
<text x="371.40" y="147.50" text-anchor="middle" font-size="16" style="font-family:'Liberation Serif',serif">0</text>
<text x="371.40" y="104.12" text-anchor="middle" font-size="16" style="font-family:'Liberation Serif',serif">6</text>
<text x="371.40" y="60.74" text-anchor="middle" font-size="16" style="font-family:'Liberation Serif',serif">12</text>
<text x="371.40" y="17.36" text-anchor="middle" font-size="16" style="font-family:'Liberation Serif',serif">18</text>
<text x="532.30" y="263.7" text-anchor="middle" font-size="15.4" style="font-family:'Liberation Serif',serif">Landslide number</text>
<text transform="translate(359.20,123.40) rotate(-90)" text-anchor="middle" font-size="15.4" style="font-family:'Liberation Serif',serif">Time (d)</text>
<text x="391.20" y="19.4" font-size="16" style="font-family:'Liberation Serif',serif">(b)</text>
<g stroke="#ee98a8" stroke-width="1.8"><line x1="558.50" y1="14.95" x2="563.50" y2="14.95"/><line x1="565.95" y1="14.95" x2="570.95" y2="14.95"/><line x1="573.40" y1="14.95" x2="578.40" y2="14.95"/><line x1="580.85" y1="14.95" x2="585.85" y2="14.95"/></g>
<text x="591.90" y="18.7" font-size="12.2" style="font-family:'Liberation Serif',serif">Actual landslide</text>
<text x="591.90" y="31.0" font-size="12.2" style="font-family:'Liberation Serif',serif">failure time</text>
<line x1="564.90" y1="40.4" x2="579.40" y2="40.4" stroke="#b08a78" stroke-width="1" stroke-dasharray="1 1.1"/>
<path d="M557.80 36.65L564.70 40.4L557.80 44.15Z" fill="#10b05a"/>
<path d="M587.00 36.65L579.90 40.4L587.00 44.15Z" fill="#10b05a"/>
<text x="591.90" y="45.30" font-size="12.2" style="font-family:'Liberation Serif',serif">PIs of WB</text>
<line x1="564.90" y1="56.2" x2="579.40" y2="56.2" stroke="#b08a78" stroke-width="1" stroke-dasharray="1 1.1"/>
<path d="M557.80 52.45L564.70 56.2L557.80 59.95Z" fill="#8a5528"/>
<path d="M587.00 52.45L579.90 56.2L587.00 59.95Z" fill="#8a5528"/>
<text x="591.90" y="61.10" font-size="12.2" style="font-family:'Liberation Serif',serif">PIs of WB-MLE</text>
</svg>
</body></html>
